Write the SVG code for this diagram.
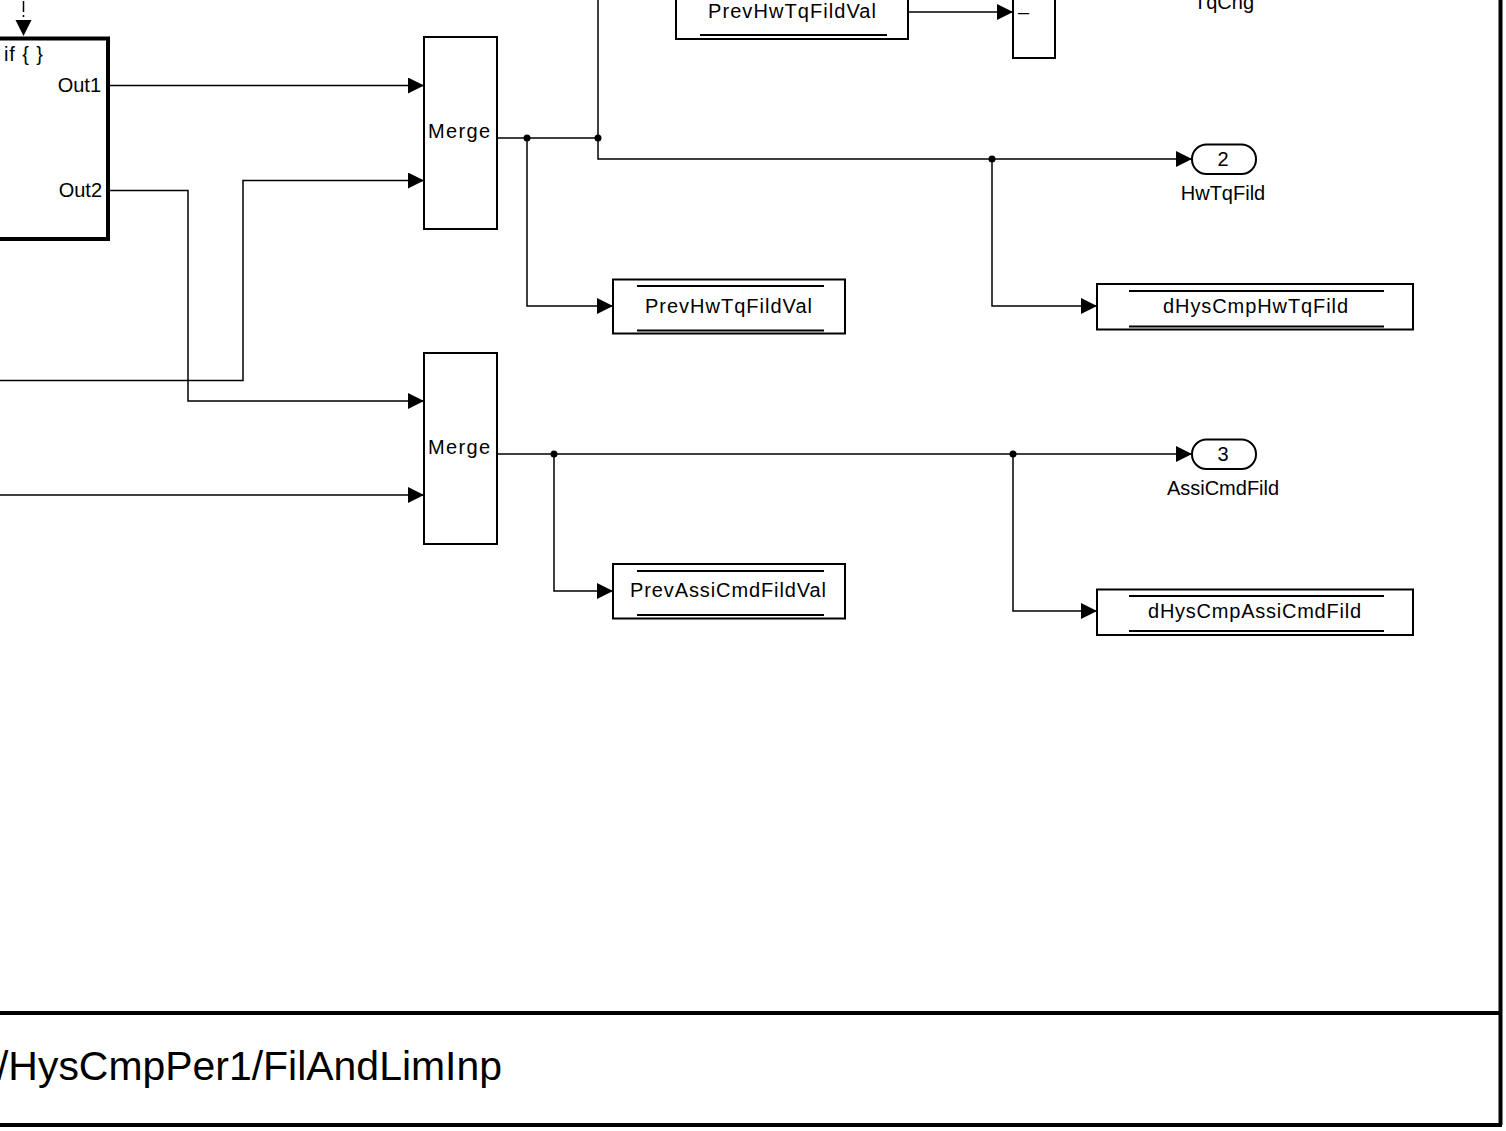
<svg xmlns="http://www.w3.org/2000/svg" width="1506" height="1131" viewBox="0 0 1506 1131">
<style>
.ln{fill:none;stroke:#000;stroke-width:1.5}
.blk{fill:#fff;stroke:#000;stroke-width:2}
.sub{fill:#fff;stroke:#000;stroke-width:4}
.bar{stroke:#000;stroke-width:2}
.frame{stroke:#000;stroke-width:4;fill:none}
.t{font-family:"Liberation Sans",Arial,sans-serif;font-size:20px;fill:#000}
.c{text-anchor:middle}
.e{text-anchor:end}
.dot{fill:#000}
</style>
<defs>
<marker id="arr" markerUnits="userSpaceOnUse" markerWidth="17" markerHeight="17" refX="16" refY="8" orient="auto">
<path d="M0,0L16,8L0,16z" fill="#000"/>
</marker>
</defs>
<rect width="1506" height="1131" fill="#fff"/>

<g id="connectors">
<path class="ln" d="M108,85.5H424" marker-end="url(#arr)"/>
<path class="ln" d="M108,190.5H188V401H424" marker-end="url(#arr)"/>
<path class="ln" d="M0,380.5H243V180.5H424" marker-end="url(#arr)"/>
<path class="ln" d="M0,495H424" marker-end="url(#arr)"/>
<path class="ln" d="M497,138H598"/>
<path class="ln" d="M598,0V159H1192" marker-end="url(#arr)"/>
<path class="ln" d="M527,138V306H613" marker-end="url(#arr)"/>
<path class="ln" d="M992,159V306H1097" marker-end="url(#arr)"/>
<path class="ln" d="M497,454H1192" marker-end="url(#arr)"/>
<path class="ln" d="M554,454V591H613" marker-end="url(#arr)"/>
<path class="ln" d="M1013,454V611H1097" marker-end="url(#arr)"/>
<path class="ln" d="M908,12H1013" marker-end="url(#arr)"/>
<path class="ln" d="M23.5,1V19" stroke-dasharray="11 3 2 10"/>
<polygon points="15.5,20 31.5,20 23.5,36" fill="#000"/>
<circle class="dot" cx="527" cy="138" r="3.5"/>
<circle class="dot" cx="598" cy="138" r="3.5"/>
<circle class="dot" cx="992" cy="159" r="3.5"/>
<circle class="dot" cx="554" cy="454" r="3.5"/>
<circle class="dot" cx="1013" cy="454" r="3.5"/>
</g>

<g id="if-block">
<rect class="sub" x="-10" y="38.5" width="118" height="200.5"/>
<text class="t" x="4" y="61" textLength="39" lengthAdjust="spacing">if { }</text>
<text class="t e" x="101" y="92">Out1</text>
<text class="t e" x="102" y="197">Out2</text>
</g>

<g id="merge1">
<rect class="blk" x="424" y="37" width="73" height="192"/>
<text class="t" x="428" y="138" textLength="62" lengthAdjust="spacing">Merge</text>
</g>

<g id="merge2">
<rect class="blk" x="424" y="353" width="73" height="191"/>
<text class="t" x="428" y="454" textLength="62" lengthAdjust="spacing">Merge</text>
</g>

<g id="prev-read-top">
<rect class="blk" x="676" y="-20" width="232" height="59"/>
<line class="bar" x1="700" y1="35" x2="887" y2="35"/>
<text class="t" x="708" y="18" textLength="168" lengthAdjust="spacing">PrevHwTqFildVal</text>
</g>

<g id="sum">
<rect class="blk" x="1013" y="-20" width="42" height="78"/>
<text class="t" x="1018" y="19">–</text>
</g>

<g id="tqcng-label">
<text class="t c" x="1224" y="9">TqCng</text>
</g>

<g id="out2">
<rect class="blk" x="1192" y="144.5" width="64" height="29.5" rx="14.5"/>
<text class="t c" x="1223" y="166">2</text>
<text class="t c" x="1223" y="200">HwTqFild</text>
</g>

<g id="out3">
<rect class="blk" x="1192" y="439.5" width="64" height="29.5" rx="14.5"/>
<text class="t c" x="1223" y="461">3</text>
<text class="t c" x="1223" y="495">AssiCmdFild</text>
</g>

<g id="prev-hw-write">
<rect class="blk" x="613" y="279.5" width="232" height="54"/>
<line class="bar" x1="637" y1="286" x2="824" y2="286"/>
<line class="bar" x1="637" y1="330.5" x2="824" y2="330.5"/>
<text class="t" x="645" y="313" textLength="167" lengthAdjust="spacing">PrevHwTqFildVal</text>
</g>

<g id="dhys-hw-write">
<rect class="blk" x="1097" y="284" width="316" height="45.5"/>
<line class="bar" x1="1129" y1="291" x2="1384" y2="291"/>
<line class="bar" x1="1129" y1="326.5" x2="1384" y2="326.5"/>
<text class="t" x="1163" y="313" textLength="185" lengthAdjust="spacing">dHysCmpHwTqFild</text>
</g>

<g id="prev-assi-write">
<rect class="blk" x="613" y="564" width="232" height="54.5"/>
<line class="bar" x1="637" y1="571" x2="824" y2="571"/>
<line class="bar" x1="637" y1="615" x2="824" y2="615"/>
<text class="t" x="630" y="597" textLength="196" lengthAdjust="spacing">PrevAssiCmdFildVal</text>
</g>

<g id="dhys-assi-write">
<rect class="blk" x="1097" y="589.5" width="316" height="45.5"/>
<line class="bar" x1="1129" y1="596" x2="1384" y2="596"/>
<line class="bar" x1="1129" y1="631" x2="1384" y2="631"/>
<text class="t" x="1148" y="618" textLength="213" lengthAdjust="spacing">dHysCmpAssiCmdFild</text>
</g>

<g id="frame">
<path class="frame" d="M1500.5,-5V1125M-5,1013H1500.5M-5,1125H1502"/>
<text class="t" x="-3" y="1080" style="font-size:40.5px" textLength="505" lengthAdjust="spacingAndGlyphs">/HysCmpPer1/FilAndLimInp</text>
</g>
</svg>
